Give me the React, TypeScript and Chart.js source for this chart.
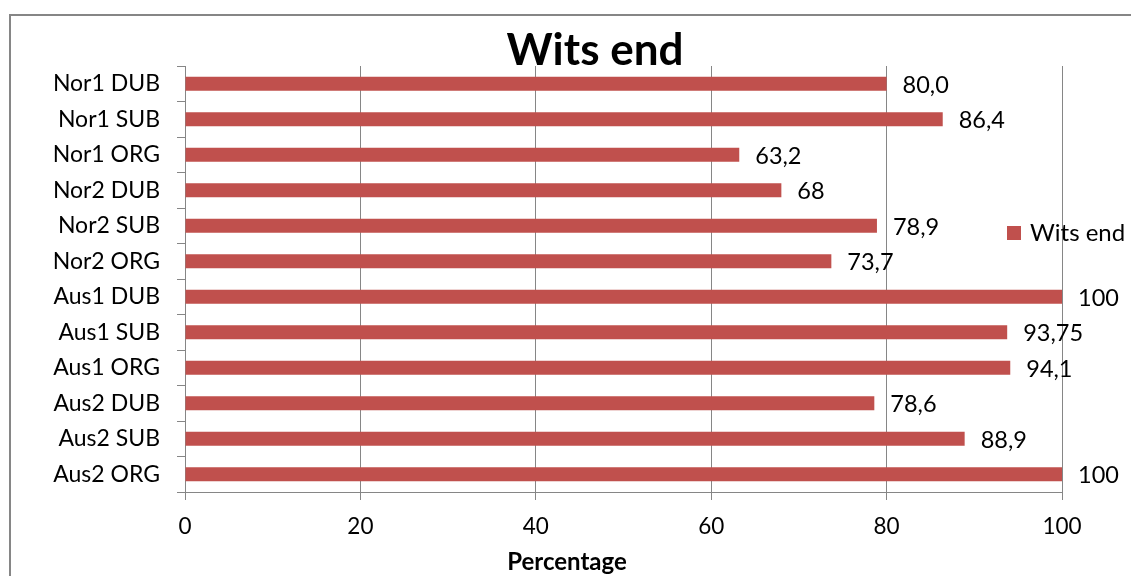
import React, { useEffect, useRef } from "react";
import { Chart, registerables } from "chart.js";

Chart.register(...registerables);

// Rows from top to bottom
const categories = [
  "Nor1 DUB",
  "Nor1 SUB",
  "Nor1 ORG",
  "Nor2 DUB",
  "Nor2 SUB",
  "Nor2 ORG",
  "Aus1 DUB",
  "Aus1 SUB",
  "Aus1 ORG",
  "Aus2 DUB",
  "Aus2 SUB",
  "Aus2 ORG",
];

// Value labels as printed (decimal comma); the bar lengths are parsed from them
const valueLabels = [
  "80,0",
  "86,4",
  "63,2",
  "68",
  "78,9",
  "73,7",
  "100",
  "93,75",
  "94,1",
  "78,6",
  "88,9",
  "100",
];

const values = valueLabels.map((s) => parseFloat(s.replace(",", ".")));

const xTicks = [0, 20, 40, 60, 80, 100];

const seriesName = "Wits end";
const chartTitle = "Wits end";
const xAxisTitle = "Percentage";

const BAR_COLOR = "#C0504D";
const LINE_COLOR = "#868686";
const FONT = "Lato, 'Open Sans', sans-serif";

const decorations = {
  id: "decorations",
  afterDraw(chart: any) {
    const ctx = chart.ctx as CanvasRenderingContext2D;
    ctx.save();

    // outer frame
    ctx.strokeStyle = LINE_COLOR;
    ctx.lineWidth = 2;
    ctx.strokeRect(10, 15, 2000, 2000);

    // title
    ctx.fillStyle = "#000";
    ctx.font = `bold 44px ${FONT}`;
    ctx.textAlign = "center";
    ctx.textBaseline = "alphabetic";
    ctx.fillText(chartTitle, 595, 65);

    // x axis title
    ctx.font = `bold 24px ${FONT}`;
    ctx.fillText(xAxisTitle, 567, 570);

    // value labels at bar ends
    const meta = chart.getDatasetMeta(0);
    ctx.font = `23.5px ${FONT}`;
    ctx.textAlign = "left";
    ctx.textBaseline = "middle";
    meta.data.forEach((bar: any, i: number) => {
      ctx.fillText(valueLabels[i], bar.x + 16, bar.y + 1.5);
    });

    // legend
    ctx.fillStyle = BAR_COLOR;
    ctx.fillRect(1007, 226, 14, 14);
    ctx.fillStyle = "#000";
    ctx.font = `24px ${FONT}`;
    ctx.fillText(seriesName, 1030, 233);

    ctx.restore();
  },
};

export default function App() {
  const canvasRef = useRef<HTMLCanvasElement | null>(null);

  useEffect(() => {
    document.body.style.margin = "0";
    const canvas = canvasRef.current;
    if (!canvas) return;

    const chart = new Chart(canvas, {
      type: "bar",
      data: {
        labels: categories,
        datasets: [
          {
            label: seriesName,
            data: values,
            backgroundColor: BAR_COLOR,
            borderWidth: 0,
            barPercentage: 0.4,
            categoryPercentage: 1,
          },
        ],
      },
      options: {
        indexAxis: "y",
        animation: false,
        responsive: false,
        maintainAspectRatio: false,
        layout: { padding: { top: 66, right: 69, left: 0, bottom: 0 } },
        plugins: {
          legend: { display: false },
          title: { display: false },
          tooltip: { enabled: false },
        },
        scales: {
          x: {
            type: "linear",
            position: "bottom",
            min: 0,
            max: 100,
            afterBuildTicks(scale: any) {
              scale.ticks = xTicks.map((v) => ({ value: v }));
            },
            afterFit(scale: any) {
              scale.height = 84;
            },
            ticks: {
              color: "#000",
              font: { family: FONT, size: 22.5 },
              padding: 13,
              maxRotation: 0,
            },
            grid: {
              color: LINE_COLOR,
              lineWidth: 1,
              tickLength: 8,
              drawOnChartArea: true,
            },
            border: { display: true, color: LINE_COLOR, width: 1 },
          },
          y: {
            type: "category",
            position: "left",
            offset: true,
            afterFit(scale: any) {
              scale.width = 185;
            },
            ticks: {
              color: "#000",
              font: { family: FONT, size: 23 },
              padding: 17,
            },
            grid: {
              color: LINE_COLOR,
              lineWidth: 1,
              tickLength: 8,
              drawOnChartArea: false,
              offset: true,
            },
            border: { display: true, color: LINE_COLOR, width: 1 },
          },
        },
      },
      plugins: [decorations],
    });

    return () => chart.destroy();
  }, []);

  return (
    <canvas
      ref={canvasRef}
      width={1131}
      height={576}
      style={{ display: "block", width: 1131, height: 576 }}
    />
  );
}
